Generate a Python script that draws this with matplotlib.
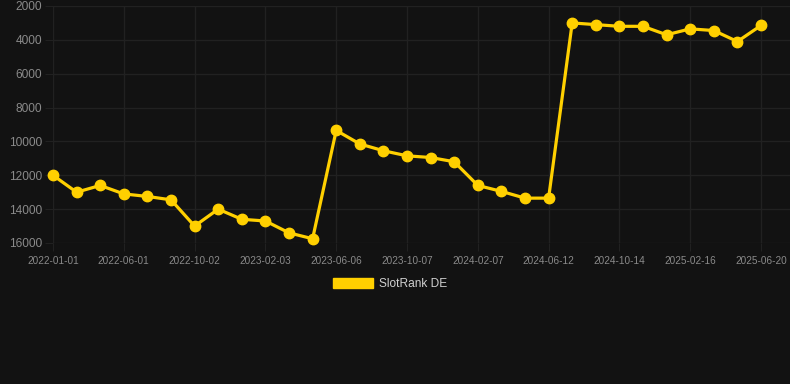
import numpy as np
import matplotlib
matplotlib.use('Agg')
import matplotlib.pyplot as plt
from matplotlib.patches import Patch

## Data (rank, lower is better)
dates = ['2022-01-01', '2022-02-20', '2022-04-11', '2022-06-01', '2022-07-11',
         '2022-08-21', '2022-10-02', '2022-11-12', '2022-12-23', '2023-02-03',
         '2023-03-15', '2023-04-25', '2023-06-06', '2023-07-16', '2023-08-26',
         '2023-10-07', '2023-11-16', '2023-12-28', '2024-02-07', '2024-03-18',
         '2024-04-30', '2024-06-12', '2024-07-22', '2024-09-02', '2024-10-14',
         '2024-11-23', '2025-01-05', '2025-02-16', '2025-03-28', '2025-05-09',
         '2025-06-20']
rank = [12000, 13000, 12600, 13100, 13250, 13450, 15000, 14000, 14600, 14700,
        15400, 15750, 9350, 10150, 10550, 10850, 10950, 11200, 12600, 12950,
        13350, 13350, 3000, 3100, 3200, 3200, 3700, 3350, 3450, 4100, 3150]
yticks = [2000, 4000, 6000, 8000, 10000, 12000, 14000, 16000]
series_name = 'SlotRank DE'

bg = '#121212'
gold = '#FFD000'
gridc = '#212121'
plt.rcParams['font.family'] = ['Liberation Sans', 'DejaVu Sans']

W, H = 790, 384
fig = plt.figure(figsize=(W/100, H/100), dpi=100, facecolor=bg)
ax = fig.add_axes([53/W, (H-243)/H, (W-53)/W, 237/H])
ax.set_facecolor(bg)

x = np.arange(len(dates))
step = 23.6
ax.plot(x, rank, color=gold, lw=2.3, marker='o', ms=7.5, mfc=gold, mec=gold,
        zorder=3, clip_on=False)

ax.set_xlim(0, (W-53)/step)
ax.set_ylim(16000, 2000)
ax.set_yticks(yticks)
ax.set_yticklabels([str(v) for v in yticks])
ax.set_xticks(x[::3])
ax.set_xticklabels(dates[::3])

ax.grid(True, color=gridc, lw=1.0)
ax.set_axisbelow(True)
for s in ax.spines.values():
    s.set_visible(False)
ax.tick_params(axis='y', colors=gridc, labelcolor='#8a8a8a', labelsize=8.6, length=6, pad=2)
ax.tick_params(axis='x', colors=gridc, labelcolor='#8a8a8a', labelsize=7.2, length=6, pad=3)

fig.legend(handles=[Patch(facecolor=gold, edgecolor=gold, label=series_name)],
           loc='center', bbox_to_anchor=(0.5 - 5/W, 1-284/H), frameon=False,
           fontsize=8.6, labelcolor='#d0d0d0', handlelength=3.4, handleheight=1.0,
           handletextpad=0.5)

fig.savefig('out.png', dpi=100, facecolor=bg)
